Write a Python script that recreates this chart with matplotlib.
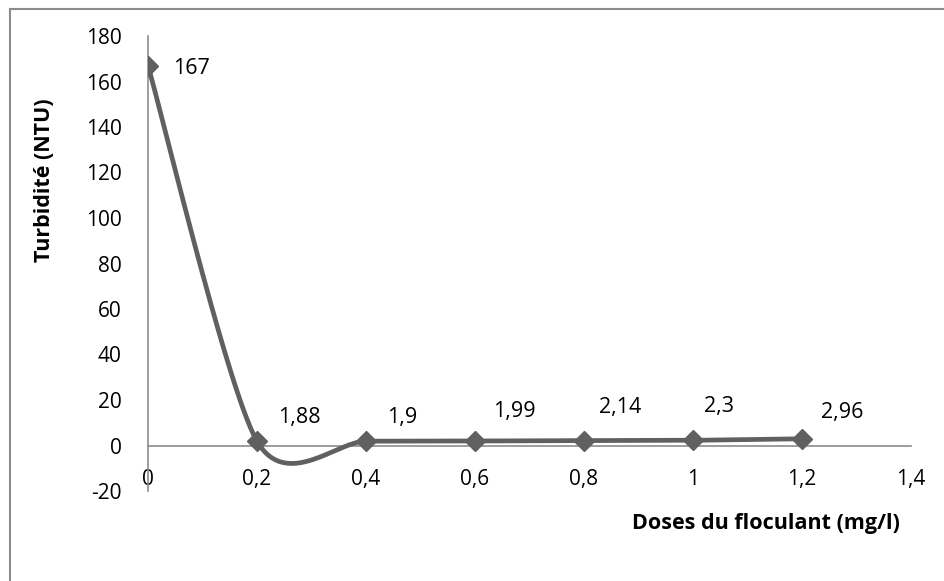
import numpy as np
import matplotlib
matplotlib.use('Agg')
import matplotlib.pyplot as plt
from matplotlib.lines import Line2D
from matplotlib.ticker import FuncFormatter

# données
doses = [0, 0.2, 0.4, 0.6, 0.8, 1.0, 1.2]
turbidite = [167, 1.88, 1.9, 1.99, 2.14, 2.3, 2.96]
etiquettes = ['167', '1,88', '1,9', '1,99', '2,14', '2,3', '2,96']
# décalage des étiquettes (points)
decalages = [(18, -2), (15, 17), (15, 17), (13, 21), (11, 24), (8, 24), (14, 19)]

COULEUR = '#606060'


def lissage(x, y, tension=0.8, n=60):
    """courbe lissée type Excel (Bézier / Catmull-Rom)"""
    x = np.asarray(x, float)
    y = np.asarray(y, float)
    px, py = [], []
    for i in range(len(x) - 1):
        i0 = max(i - 1, 0)
        i3 = min(i + 2, len(x) - 1)
        tx1 = (x[i + 1] - x[i0]) / 2 * tension
        ty1 = (y[i + 1] - y[i0]) / 2 * tension
        tx2 = (x[i3] - x[i]) / 2 * tension
        ty2 = (y[i3] - y[i]) / 2 * tension
        b0 = (x[i], y[i])
        b1 = (x[i] + tx1 / 3, y[i] + ty1 / 3)
        b2 = (x[i + 1] - tx2 / 3, y[i + 1] - ty2 / 3)
        b3 = (x[i + 1], y[i + 1])
        t = np.linspace(0, 1, n)
        c = [(1 - t) ** 3, 3 * (1 - t) ** 2 * t, 3 * (1 - t) * t ** 2, t ** 3]
        px.extend(c[0] * b0[0] + c[1] * b1[0] + c[2] * b2[0] + c[3] * b3[0])
        py.extend(c[0] * b0[1] + c[1] * b1[1] + c[2] * b2[1] + c[3] * b3[1])
    return np.array(px), np.array(py)


plt.rcParams['font.family'] = ['Open Sans', 'DejaVu Sans']
plt.rcParams['axes.unicode_minus'] = False

fig = plt.figure(figsize=(9.44, 5.81), dpi=100)
ax = fig.add_axes([148 / 944, 1 - 491 / 581, (911 - 148) / 944, (491 - 36) / 581])

xs, ys = lissage(doses, turbidite)
ax.plot(xs, ys, color=COULEUR, lw=3.4, solid_capstyle='round', zorder=3)
ax.plot(doses, turbidite, ls='none', marker='D', ms=10, color=COULEUR, zorder=4)

for x, y, txt, (dx, dy) in zip(doses, turbidite, etiquettes, decalages):
    ax.annotate(txt, (x, y), xytext=(dx, dy), textcoords='offset points',
                ha='left', va='center', fontsize=15.5, color='black')

ax.set_xlim(0, 1.4)
ax.set_ylim(-20, 180)
ax.set_xticks(np.arange(0, 1.41, 0.2))
ax.set_yticks(np.arange(-20, 181, 20))
ax.xaxis.set_major_formatter(FuncFormatter(lambda v, p: f'{v:g}'.replace('.', ',')))

for s in ['top', 'right']:
    ax.spines[s].set_visible(False)
ax.spines['bottom'].set_position(('data', 0))
ax.spines['left'].set_position(('data', 0))
for s in ['bottom', 'left']:
    ax.spines[s].set_color('#8c8c8c')
    ax.spines[s].set_linewidth(1.2)
ax.tick_params(length=0, labelsize=15, colors='black')
ax.tick_params(axis='x', pad=17)
ax.tick_params(axis='y', pad=19)

fig.text(45 / 944, 1 - 180 / 581, 'Turbidité (NTU)', rotation=90, ha='center',
         va='center', fontsize=15.5, fontweight='bold')
fig.text(766 / 944, 1 - 523 / 581, 'Doses du floculant (mg/l)', ha='center',
         va='center', fontsize=15.5, fontweight='bold')

# cadre du graphique
fig.add_artist(Line2D([10 / 944, 1], [1 - 9 / 581, 1 - 9 / 581], color='#8c8c8c', lw=1.5))
fig.add_artist(Line2D([10 / 944, 10 / 944], [0, 1 - 9 / 581], color='#8c8c8c', lw=1.5))

fig.savefig('out.png', dpi=100)
